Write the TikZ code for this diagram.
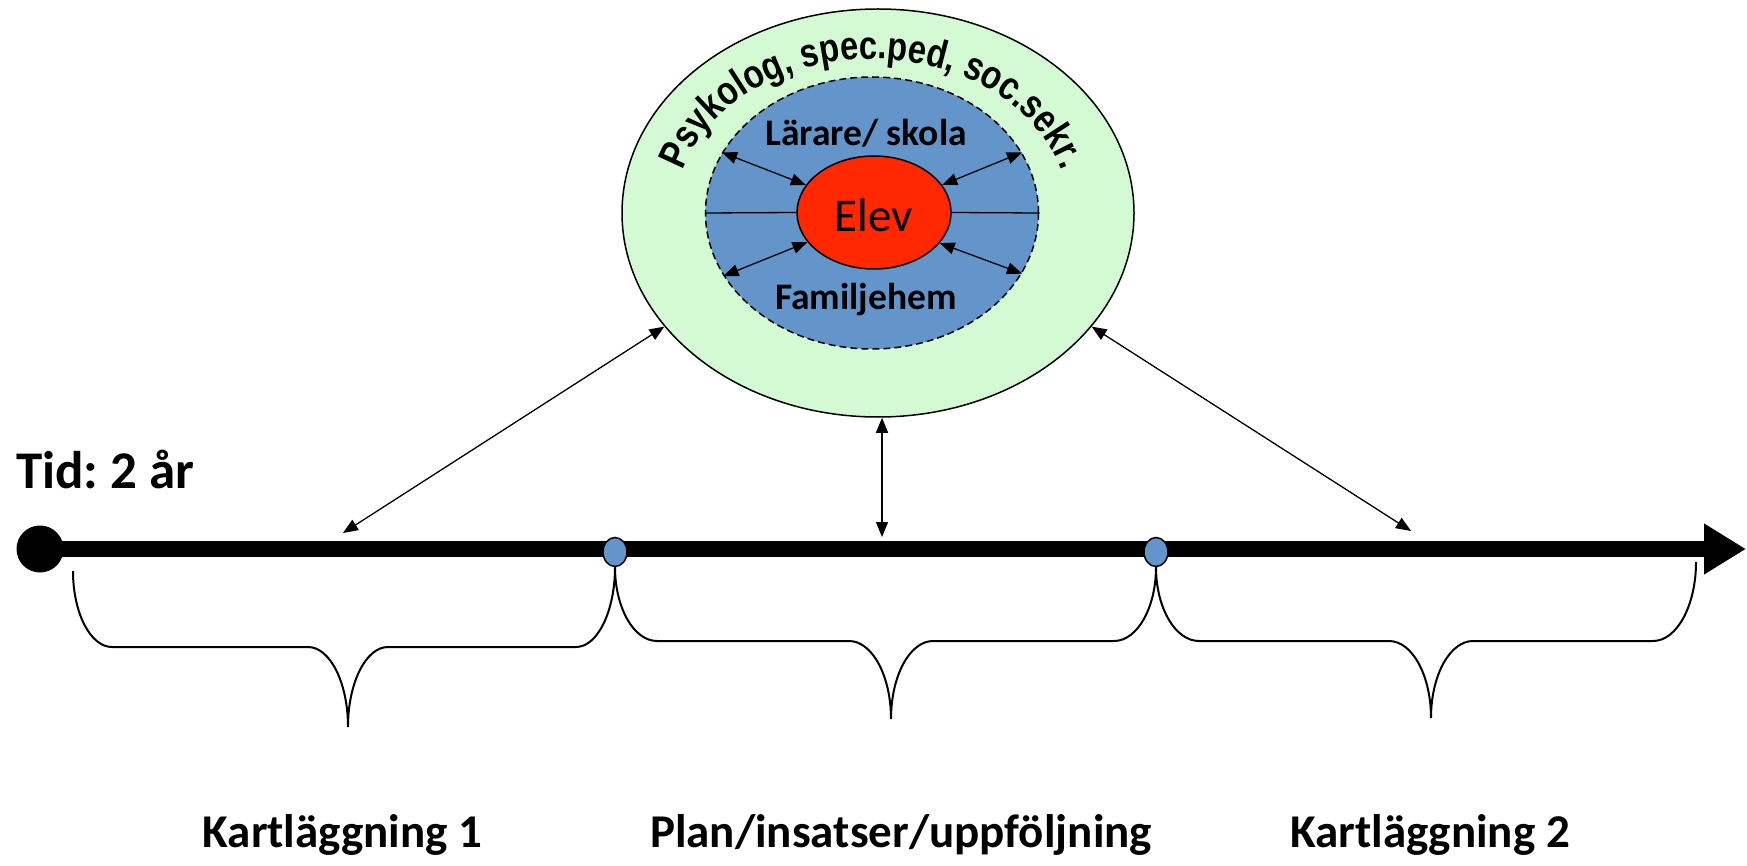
\documentclass[tikz,border=0pt]{standalone}
\usepackage{fontspec}
\setmainfont{Carlito}
\newfontfamily\arialfont[FakeStretch=0.82]{Liberation Sans}
\usetikzlibrary{shapes.geometric,arrows.meta,decorations.text}
\frenchspacing

\definecolor{lgreen}{RGB}{211,250,211}
\definecolor{mblue}{RGB}{99,149,202}
\definecolor{ered}{RGB}{255,40,0}

\tikzset{
  ring/.style={ellipse, draw=black, line width=1.5pt, inner sep=0pt},
  biarrow/.style={{Triangle[length=15pt,width=12pt]}-{Triangle[length=15pt,width=12pt]}, line width=1.3pt},
  lbl/.style={font=\bfseries\fontsize{47}{54}\selectfont, inner sep=0pt, anchor=base},
  inlbl/.style={font=\bfseries\fontsize{37.5}{44}\selectfont, inner sep=0pt, anchor=base},
  bracestyle/.style={line width=2pt},
  dot/.style={ellipse, draw=black, line width=1.5pt, fill=mblue, minimum width=24pt, minimum height=29pt, inner sep=0pt},
}

\newcommand\tlbrace[9]{%
 \draw[bracestyle] (#1,-#2) arc[start angle=180,end angle=270,x radius=#8,y radius={#5-#2}]
   -- ({#6-#9},-#5) arc[start angle=90,end angle=0,x radius=#9,y radius={#7-#5}]
   arc[start angle=180,end angle=90,x radius=#9,y radius={#7-#5}]
   -- ({#3-#8},-#5) arc[start angle=270,end angle=360,x radius=#8,y radius={#5-#4}];}

\begin{document}
\begin{tikzpicture}[x=1pt,y=1pt]
\useasboundingbox (0,0) rectangle (1747,-866);
\fill[white] (0,0) rectangle (1747,-866);

% circles
\node[ring, fill=lgreen, minimum width=512pt, minimum height=408pt] (outer) at (878,-213) {};
\node[ring, fill=mblue, dash pattern=on 7pt off 4pt, minimum width=333pt, minimum height=272pt] (inner) at (872,-213) {};
\node[ring, fill=ered, minimum width=154pt, minimum height=113pt] (elev) at (874,-212.5) {};
\node[font=\fontsize{47}{54}\selectfont, inner sep=0pt, anchor=base] (elevtxt) at (874,-232) {Elev};

\path[decorate, decoration={text along path, text align=center,
  text={|\arialfont\bfseries\fontsize{40}{45}\selectfont|Psykolog{,} spec.ped{,} soc.sekr.}}]
  (872,-213) ++(205:197 and 154) arc[start angle=205, end angle=-25, x radius=197, y radius=154];

\node[inlbl] (larare) at (866,-146) {Lärare/ skola};
\node[inlbl] (familj) at (866,-310) {Familjehem};

\draw[line width=1.3pt] (inner.west) -- (elev.west);
\draw[line width=1.3pt] (elev.east) -- (inner.east);
\draw[biarrow] (inner.158) -- (elev.158);
\draw[biarrow] (inner.22) -- (elev.22);
\draw[biarrow] (inner.203) -- (elev.204);
\draw[biarrow] (inner.-22) -- (elev.-25);

% timeline
\node[circle, fill=black, minimum size=47pt, inner sep=0pt] (start) at (40,-549) {};
\coordinate (tend) at (1746,-549);
\draw[line width=16pt, -{Triangle[length=42pt,width=48pt]}] (start.center) -- (tend);
\node[dot] (m1) at (615,-552) {};
\node[dot] (m2) at (1156,-552) {};

\node[font=\bfseries\fontsize{53}{60}\selectfont, inner sep=0pt, anchor=base west] (tid) at (16,-488) {Tid: 2 år};

% connectors
\coordinate (t1) at (343,-533);
\coordinate (t2) at (882,-537);
\coordinate (t3) at (1411,-531);
\draw[biarrow] (outer.208.7) -- (t1);
\draw[biarrow] (outer.south -| t2) -- (t2);
\draw[biarrow] (outer.-28) -- (t3);

% braces
\tlbrace{73}{571}{615}{567}{647}{348}{727}{39}{40}
\tlbrace{615}{567}{1156}{567}{641}{891}{719}{42}{42}
\tlbrace{1156}{567}{1696}{562}{641}{1431}{718}{43}{42}

% labels
\node[lbl] (k1) at (342.5,-847) {Kartläggning 1};
\node[lbl] (plan) at (901,-847) {Plan/insatser/uppföljning};
\node[lbl] (k2) at (1430,-847) {Kartläggning 2};
\end{tikzpicture}
\end{document}
